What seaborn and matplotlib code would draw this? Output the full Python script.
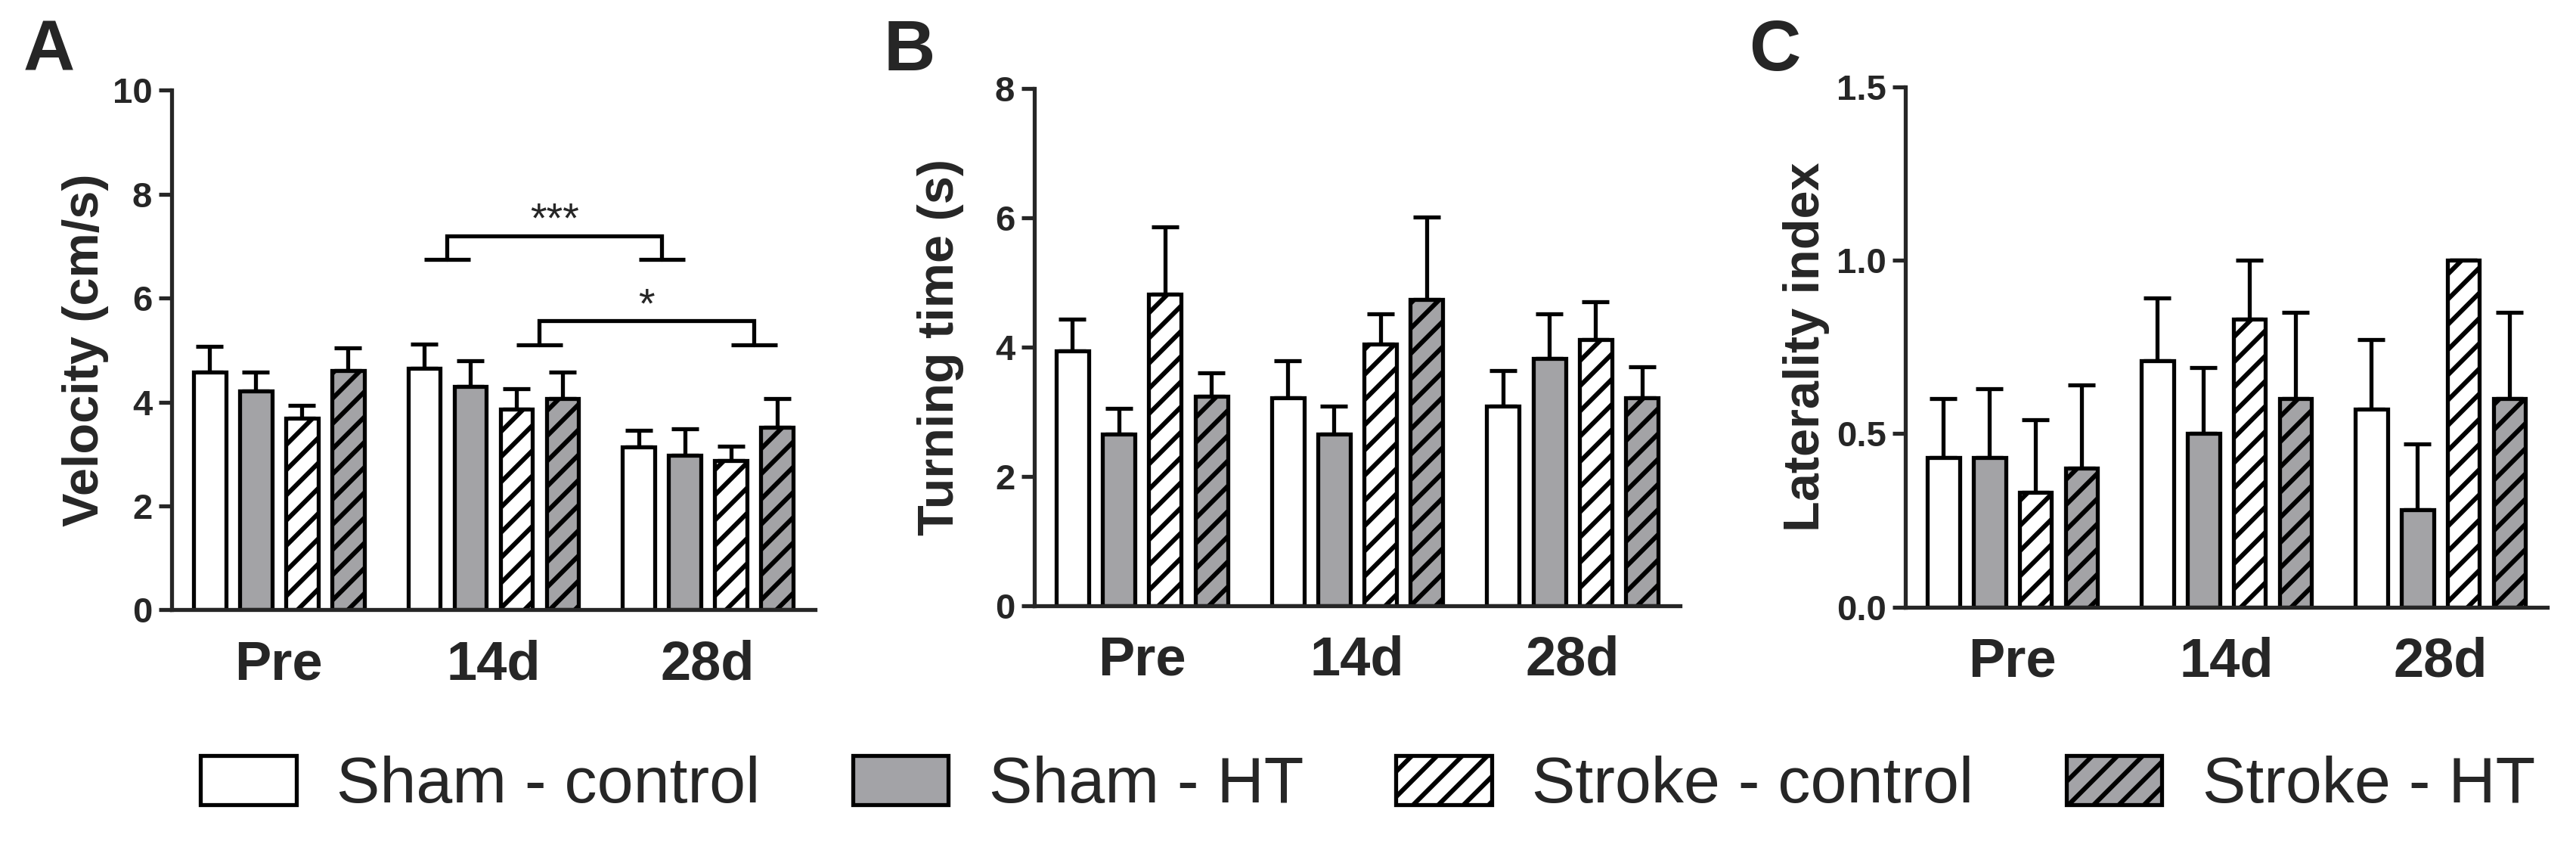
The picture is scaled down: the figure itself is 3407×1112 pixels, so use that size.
import numpy as np
import pandas as pd
import matplotlib
matplotlib.use("Agg")
import matplotlib.pyplot as plt
from matplotlib.patches import Patch
from matplotlib.ticker import FormatStrFormatter
import seaborn as sns

# ---------------- data ----------------
times = ["Pre", "14d", "28d"]
groups = ["Sham - control", "Sham - HT", "Stroke - control", "Stroke - HT"]

# Panel A: velocity (cm/s) means and SEM, per group over times
vel_sham_control = [4.58, 4.65, 3.13]
vel_sham_ht = [4.22, 4.30, 2.98]
vel_stroke_control = [3.69, 3.86, 2.87]
vel_stroke_ht = [4.61, 4.07, 3.51]
vel_sem_sham_control = [0.49, 0.47, 0.32]
vel_sem_sham_ht = [0.35, 0.49, 0.51]
vel_sem_stroke_control = [0.24, 0.40, 0.28]
vel_sem_stroke_ht = [0.43, 0.51, 0.56]

# Panel B: turning time (s)
turn_sham_control = [3.94, 3.21, 3.09]
turn_sham_ht = [2.65, 2.65, 3.82]
turn_stroke_control = [4.82, 4.04, 4.11]
turn_stroke_ht = [3.24, 4.73, 3.21]
turn_sem_sham_control = [0.49, 0.58, 0.55]
turn_sem_sham_ht = [0.40, 0.44, 0.69]
turn_sem_stroke_control = [1.04, 0.47, 0.59]
turn_sem_stroke_ht = [0.36, 1.28, 0.48]

# Panel C: laterality index
lat_sham_control = [0.43, 0.71, 0.57]
lat_sham_ht = [0.43, 0.50, 0.28]
lat_stroke_control = [0.33, 0.83, 1.00]
lat_stroke_ht = [0.40, 0.60, 0.60]
lat_sem_sham_control = [0.17, 0.18, 0.20]
lat_sem_sham_ht = [0.20, 0.19, 0.19]
lat_sem_stroke_control = [0.21, 0.17, 0.00]
lat_sem_stroke_ht = [0.24, 0.25, 0.25]

# significance annotations for panel A
sig_labels = ["***", "*"]
sig_top = [7.2, 5.56]
sig_foot = [6.75, 5.1]

# ---------------- style ----------------
sns.set_style("ticks")
plt.rcParams["font.family"] = ["Liberation Sans", "DejaVu Sans"]
plt.rcParams["font.weight"] = "bold"
plt.rcParams["hatch.linewidth"] = 2.2
plt.rcParams["hatch.color"] = "black"

GRAY = "#a3a3a7"
fills = {"Sham - control": "white", "Sham - HT": GRAY,
         "Stroke - control": "white", "Stroke - HT": GRAY}
hatches = {"Sham - control": "", "Sham - HT": "",
           "Stroke - control": "//", "Stroke - HT": "//"}
LW = 1.9


def make_df(series):
    rows = []
    for g, vals in zip(groups, series):
        for t, v in zip(times, vals):
            rows.append({"time": t, "group": g, "value": v})
    return pd.DataFrame(rows)


fig = plt.figure(figsize=(17.035, 5.56), dpi=200)
axA = fig.add_axes([0.0666, 0.2748, 0.2498, 0.6178])
axB = fig.add_axes([0.4015, 0.2797, 0.2507, 0.6155])
axC = fig.add_axes([0.7397, 0.2783, 0.2492, 0.6185])

panels = [
    (axA, [vel_sham_control, vel_sham_ht, vel_stroke_control, vel_stroke_ht],
     [vel_sem_sham_control, vel_sem_sham_ht, vel_sem_stroke_control, vel_sem_stroke_ht],
     "Velocity (cm/s)", (0, 10), [0, 2, 4, 6, 8, 10], -0.097),
    (axB, [turn_sham_control, turn_sham_ht, turn_stroke_control, turn_stroke_ht],
     [turn_sem_sham_control, turn_sem_sham_ht, turn_sem_stroke_control, turn_sem_stroke_ht],
     "Turning time (s)", (0, 8), [0, 2, 4, 6, 8], -0.109),
    (axC, [lat_sham_control, lat_sham_ht, lat_stroke_control, lat_stroke_ht],
     [lat_sem_sham_control, lat_sem_sham_ht, lat_sem_stroke_control, lat_sem_stroke_ht],
     "Laterality index", (0, 1.5), [0, 0.5, 1.0, 1.5], -0.118),
]

bar_centers = {}
for ax, series, sems, ylabel, ylim, yticks, labx in panels:
    df = make_df(series)
    sns.barplot(data=df, x="time", y="value", hue="group", order=times,
                hue_order=groups, palette=fills, errorbar=None, width=0.86,
                gap=0.3, edgecolor="black", linewidth=LW, legend=False, ax=ax,
                zorder=2)
    centers = []
    for cont, g, sem in zip(ax.containers, groups, sems):
        xs = []
        ys = []
        for bar in cont:
            bar.set_hatch(hatches[g])
            bar.set_edgecolor("black")
            bar.set_linewidth(LW)
            xs.append(bar.get_x() + bar.get_width() / 2)
            ys.append(bar.get_height())
        centers.append(xs)
        ax.errorbar(xs, ys, yerr=[np.zeros(len(sem)), sem], fmt="none",
                    ecolor="black", elinewidth=LW, capsize=6.5, capthick=LW,
                    zorder=1)
    bar_centers[ax] = centers
    ax.set_xlim(-0.5, 2.5)
    ax.set_ylim(*ylim)
    ax.set_yticks(yticks)
    ax.set_xlabel("")
    ax.set_ylabel(ylabel, fontsize=24, fontweight="bold")
    ax.yaxis.set_label_coords(labx, 0.5)
    sns.despine(ax=ax)
    for s in ["left", "bottom"]:
        ax.spines[s].set_linewidth(LW)
    ax.tick_params(axis="y", length=6.2, width=LW, labelsize=17, pad=3)
    ax.tick_params(axis="x", length=0, labelsize=26, pad=14)
    for lab in ax.get_xticklabels() + ax.get_yticklabels():
        lab.set_fontweight("bold")

axC.yaxis.set_major_formatter(FormatStrFormatter("%.1f"))

# significance brackets on panel A (positions taken from the drawn bars)
cA = bar_centers[axA]
pairs = [
    ((cA[0][1], cA[1][1]), (cA[0][2], cA[1][2])),  # sham bars 14d vs 28d
    ((cA[2][1], cA[3][1]), (cA[2][2], cA[3][2])),  # stroke bars 14d vs 28d
]
for (lf, rf), lab, yt, yf in zip(pairs, sig_labels, sig_top, sig_foot):
    lx = (lf[0] + lf[1]) / 2
    rx = (rf[0] + rf[1]) / 2
    axA.plot([lf[0], lf[1]], [yf, yf], color="black", lw=LW, solid_capstyle="butt")
    axA.plot([rf[0], rf[1]], [yf, yf], color="black", lw=LW, solid_capstyle="butt")
    axA.plot([lx, lx, rx, rx], [yf, yt, yt, yf], color="black", lw=LW,
             solid_joinstyle="miter")
    axA.text((lx + rx) / 2, yt + 0.08, lab, ha="center", va="baseline",
             fontsize=20, fontweight="normal")

# panel letters
for x, letter in zip([0.019, 0.353, 0.689], ["A", "B", "C"]):
    fig.text(x, 0.938, letter, fontsize=34, fontweight="bold",
             ha="center", va="center")

# legend
handles = [Patch(facecolor=fills[g], edgecolor="black", hatch=hatches[g],
                 linewidth=LW) for g in groups]
fig.legend(handles, groups, loc="center", bbox_to_anchor=(0.531, 0.0656),
           ncol=4, frameon=False, prop={"size": 31, "weight": "normal"},
           handlelength=1.47, handleheight=0.79, handletextpad=0.62,
           columnspacing=1.42)

fig.savefig("out.png", dpi=200)
